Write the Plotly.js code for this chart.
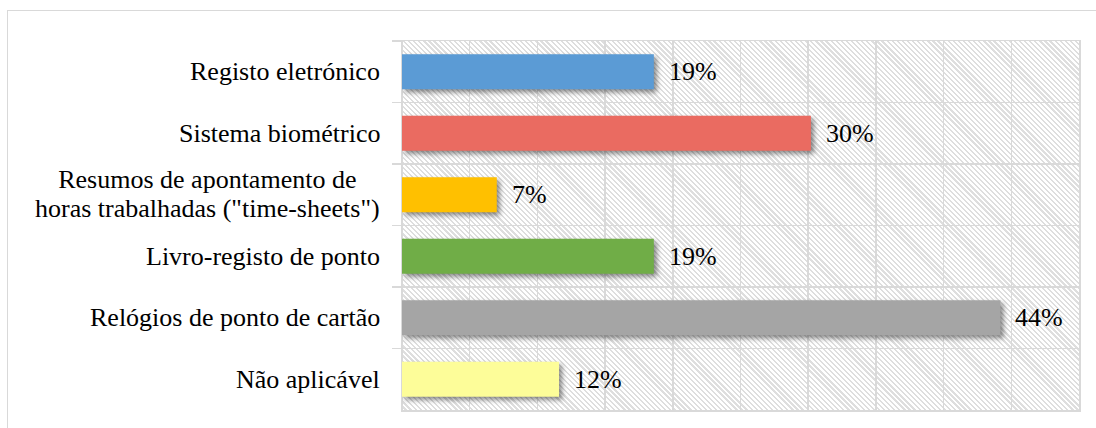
<!DOCTYPE html>
<html>
<head>
<meta charset="utf-8">
<script src="https://cdn.plot.ly/plotly-3.0.1.min.js"></script>
<style>
  html, body { margin: 0; padding: 0; width: 1096px; height: 428px; overflow: hidden; background: #fff; }
  #frame { position: absolute; left: 7px; top: 10px; width: 1200px; height: 600px; border: 1.5px solid #d9d9d9; box-sizing: border-box; }
  #hatch { position: absolute; left: 402px; top: 41px; width: 677px; height: 369px;
           background: repeating-linear-gradient(45deg, #ffffff 0px, #ffffff 2px, #dedede 2px, #dedede 3.6px); }
  #chart { position: absolute; left: 0; top: 0; width: 1096px; height: 428px; }
  .trace.bars .point path { filter: drop-shadow(3px 3px 2.5px rgba(0,0,0,0.45)); }
</style>
</head>
<body>
<div id="frame"></div>
<div id="hatch"></div>
<div id="chart"></div>
<script>
// Data (percent of 43 respondents)
const categories = [
  'Registo eletrónico',
  'Sistema biométrico',
  'Resumos de apontamento de<br>horas trabalhadas ("time-sheets")',
  'Livro-registo de ponto',
  'Relógios de ponto de cartão',
  'Não aplicável'
];
const values = [18.6, 30.2, 7.0, 18.6, 44.2, 11.6];
const labels = ['19%', '30%', '7%', '19%', '44%', '12%'];
const colors = ['#5B9BD5', '#EA6B61', '#FFC000', '#70AD47', '#A5A5A5', '#FDFD99'];

const fontFamily = 'Liberation Serif';
const fontSize = 26;

const trace = {
  type: 'bar',
  orientation: 'h',
  y: categories,
  x: values,
  marker: { color: colors, line: { width: 0 } },
  hoverinfo: 'skip'
};

const annotations = [];
categories.forEach((c, i) => {
  annotations.push({
    xref: 'paper', yref: 'y', x: 0, y: c,
    xanchor: 'right', yanchor: 'middle', xshift: -20,
    text: c, showarrow: false, align: 'center',
    font: { family: fontFamily, size: fontSize, color: '#000' }
  });
  annotations.push({
    xref: 'x', yref: 'y', x: values[i], y: c,
    xanchor: 'left', yanchor: 'middle', xshift: 13,
    text: labels[i], showarrow: false,
    font: { family: fontFamily, size: fontSize, color: '#000' }
  });
});

const layout = {
  width: 1096, height: 428,
  margin: { l: 402, r: 17, t: 41, b: 18, pad: 0 },
  paper_bgcolor: 'rgba(0,0,0,0)',
  plot_bgcolor: 'rgba(0,0,0,0)',
  font: { family: fontFamily },
  bargap: 0.43,
  showlegend: false,
  xaxis: {
    range: [0, 50], dtick: 5, tick0: 0,
    showgrid: true, gridcolor: '#d9d9d9', gridwidth: 1.5,
    zeroline: true, zerolinecolor: '#d9d9d9', zerolinewidth: 1.5,
    showticklabels: false, ticks: '',
    showline: true, linecolor: '#d9d9d9', linewidth: 1.5, mirror: true,
    fixedrange: true
  },
  yaxis: {
    type: 'category', autorange: 'reversed',
    tickson: 'boundaries', ticks: 'outside', ticklen: 9, tickcolor: '#d9d9d9', tickwidth: 1.5,
    showgrid: true, gridcolor: '#d9d9d9', gridwidth: 1.5,
    showticklabels: false,
    showline: true, linecolor: '#d9d9d9', linewidth: 1.5, mirror: true,
    fixedrange: true
  },
  annotations: annotations
};

Plotly.newPlot('chart', [trace], layout, { displayModeBar: false, staticPlot: true }).then(gd => {
  // tighten line spacing of the two-line category label, keeping lines clear of each other
  gd.querySelectorAll('g.annotation text').forEach(t => {
    const lines = t.querySelectorAll('tspan.line');
    if (lines.length === 2) {
      lines[0].setAttribute('dy', '0.09em');
      lines[1].setAttribute('dy', '1.21em');
    }
  });
});
</script>
</body>
</html>
